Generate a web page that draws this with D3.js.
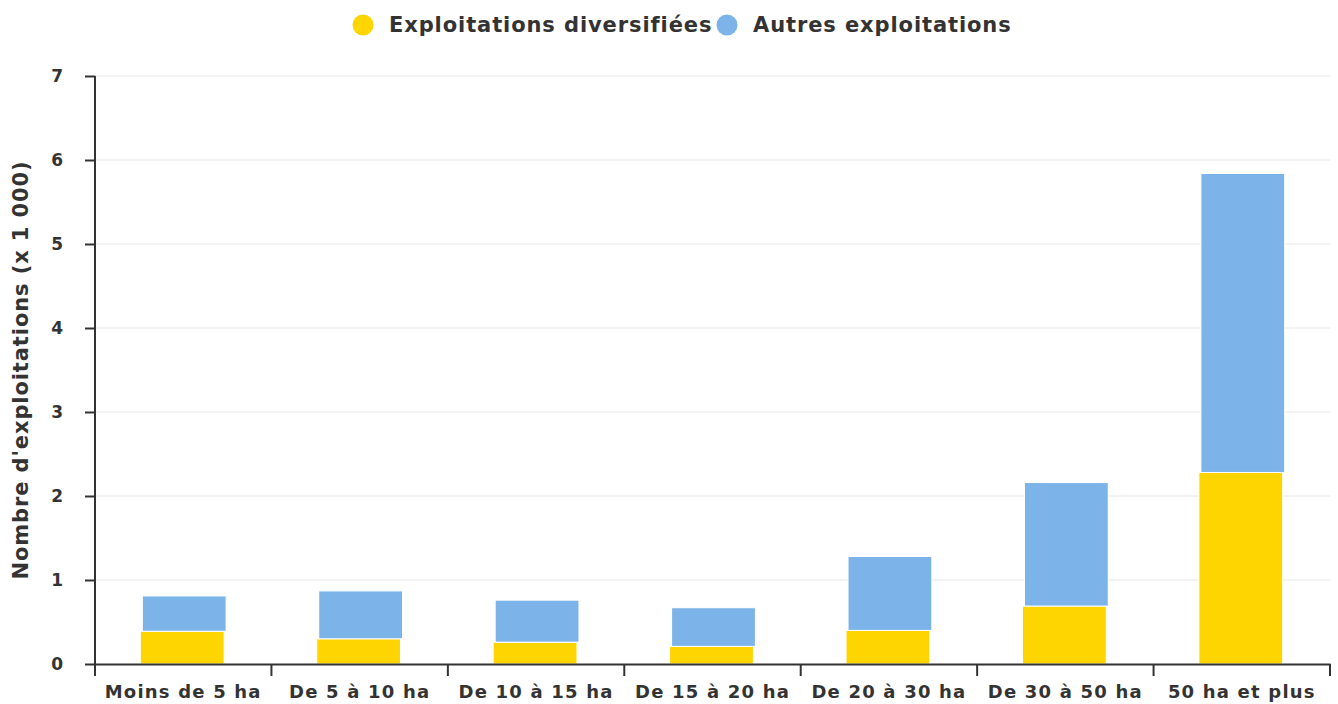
<!DOCTYPE html>
<html>
<head>
<meta charset="utf-8">
<script src="https://cdn.jsdelivr.net/npm/d3@7"></script>
<style>
    body { margin: 0; background: #ffffff; }
    svg { display: block; font-family: "DejaVu Sans", sans-serif; }
</style>
</head>
<body>
<div id="chart"></div>
<script>
var categories = ["Moins de 5 ha", "De 5 à 10 ha", "De 10 à 15 ha", "De 15 à 20 ha", "De 20 à 30 ha", "De 30 à 50 ha", "50 ha et plus"]
var diversifiees = [0.39, 0.30, 0.26, 0.21, 0.40, 0.69, 2.28]
var autres = [0.42, 0.57, 0.50, 0.46, 0.88, 1.47, 3.56]
var seriesNames = ["Exploitations diversifiées", "Autres exploitations"]
var seriesColors = ["#ffd500", "#7cb4ea"]
var yTicks = [0, 1, 2, 3, 4, 5, 6, 7]
var yTitle = "Nombre d'exploitations (x 1 000)"

function StackedBarChart(width, height) {

    var margin = { top: 76, right: 8, bottom: 40, left: 95 }
    var innerWidth = width - margin.left - margin.right
    var innerHeight = height - margin.top - margin.bottom

    var x = d3.scaleBand().domain(categories).range([0, innerWidth]).paddingInner(0).paddingOuter(0)
    var y = d3.scaleLinear().domain([0, 7]).range([innerHeight, 0])

    var barWidth = x.bandwidth() * 0.475

    function styleText(selection, size, spacing) {
        selection
            .attr("fill", "#333333")
            .attr("font-size", size + "px")
            .attr("font-weight", "bold")
            .attr("font-family", "DejaVu Sans, sans-serif")
            .attr("letter-spacing", spacing)
    }

    function stackedData() {
        var rows = categories.map(function (c, i) {
            return { category: c, s0: diversifiees[i], s1: autres[i] }
        })
        return d3.stack().keys(["s0", "s1"])(rows)
    }

    function drawGrid(plot) {
        plot.append("g")
            .selectAll("line")
            .data(yTicks.filter(function (t) { return t > 0 }))
            .join("line")
            .attr("x1", 0)
            .attr("x2", innerWidth)
            .attr("y1", function (d) { return y(d) })
            .attr("y2", function (d) { return y(d) })
            .attr("stroke", "#e6e6e6")
            .attr("stroke-width", 1)
    }

    function drawBars(plot) {
        var shift = [-1, 1]
        stackedData().forEach(function (layer, k) {
            plot.append("g")
                .selectAll("rect")
                .data(layer)
                .join("rect")
                .attr("x", function (d) { return x(d.data.category) + (x.bandwidth() - barWidth) / 2 + shift[k] })
                .attr("y", function (d) { return y(d[1]) })
                .attr("width", barWidth)
                .attr("height", function (d) { return y(d[0]) - y(d[1]) })
                .attr("fill", seriesColors[k])
                .attr("stroke", "#ffffff")
                .attr("stroke-width", 1)
        })
    }

    function drawAxes(plot) {
        var yAxis = plot.append("g")
            .call(d3.axisLeft(y).tickValues(yTicks).tickSize(10).tickPadding(22).tickFormat(d3.format("d")))
        yAxis.select(".domain").attr("d", "M0," + (innerHeight + 12) + "V0").attr("stroke", "#333333").attr("stroke-width", 2)
        yAxis.selectAll(".tick line").attr("stroke", "#333333").attr("stroke-width", 2)
        yAxis.selectAll(".tick text").call(styleText, 17, 0)

        var xAxis = plot.append("g")
            .attr("transform", "translate(0," + innerHeight + ")")
            .call(d3.axisBottom(x).tickSize(0).tickPadding(21))
        xAxis.select(".domain").attr("stroke", "#333333").attr("stroke-width", 2)
        xAxis.selectAll(".tick text").call(styleText, 18, 1.2)

        var boundaries = categories.map(function (c) { return x(c) }).concat([innerWidth])
        xAxis.append("g")
            .selectAll("line")
            .data(boundaries)
            .join("line")
            .attr("x1", function (d) { return d })
            .attr("x2", function (d) { return d })
            .attr("y1", 0)
            .attr("y2", 12)
            .attr("stroke", "#333333")
            .attr("stroke-width", 2)

        plot.append("text")
            .attr("transform", "translate(" + (-67) + "," + (innerHeight / 2) + ") rotate(-90)")
            .attr("text-anchor", "middle")
            .call(styleText, 21, 0.9)
            .text(yTitle)
    }

    function drawLegend(svg) {
        var legend = svg.append("g").attr("transform", "translate(0,25)")
        var starts = [363, 727]
        seriesNames.forEach(function (name, k) {
            var item = legend.append("g").attr("transform", "translate(" + starts[k] + ",0)")
            item.append("circle").attr("r", 10.5).attr("fill", seriesColors[k])
            item.append("text")
                .attr("x", 26)
                .attr("dy", "0.35em")
                .call(styleText, 21, 0.9)
                .text(name)
        })
    }

    this.draw = function (container) {
        var svg = container.append("svg").attr("width", width).attr("height", height)
        var plot = svg.append("g").attr("transform", "translate(" + margin.left + "," + margin.top + ")")
        drawGrid(plot)
        drawBars(plot)
        drawAxes(plot)
        drawLegend(svg)
    }
}

new StackedBarChart(1338, 704).draw(d3.select("#chart"))
</script>
</body>
</html>
